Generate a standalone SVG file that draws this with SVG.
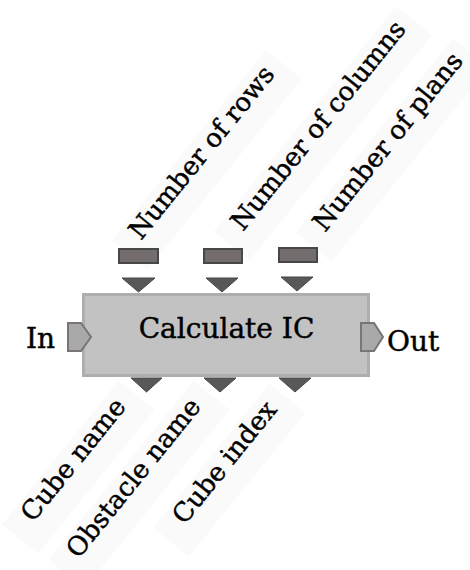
<svg xmlns="http://www.w3.org/2000/svg" width="470" height="570" viewBox="0 0 470 570">
<style>
text{font-family:"DejaVu Serif","Liberation Serif",serif;font-size:28px;fill:#000;stroke:#000;stroke-width:0.45}
.lbl{font-size:26px}
.band{fill:#fafafa}
.box{fill:#c2c2c2;stroke:#aeaeae;stroke-width:3}
.pin{fill:#736d6d;stroke:#474747;stroke-width:2}
.tri{fill:#585858;stroke:#474747;stroke-width:1}
.port{fill:#a9a9a9;stroke:#7a7474;stroke-width:2}
</style>
<rect width="470" height="570" fill="#fff"/>
<g id="bands">
<rect class="band" x="-18" y="-23" width="245" height="46" transform="translate(141,241) rotate(-51)"/>
<rect class="band" x="-18" y="-23" width="290" height="46" transform="translate(243,232) rotate(-51)"/>
<rect class="band" x="-18" y="-23" width="250" height="46" transform="translate(325,233) rotate(-51)"/>
<rect class="band" x="-170" y="-23" width="185" height="46" transform="translate(127,407) rotate(-51)"/>
<rect class="band" x="-215" y="-23" width="230" height="46" transform="translate(202,407) rotate(-51)"/>
<rect class="band" x="-170" y="-23" width="185" height="46" transform="translate(278,410) rotate(-51)"/>
</g>
<g id="calculate-ic">
<rect class="box" x="83.5" y="294.5" width="285" height="81"/>
<text x="226.5" y="338" text-anchor="middle">Calculate IC</text>
</g>
<g id="in-port">
<polygon class="port" points="68,323 81,323 91,337 81,351 68,351"/>
<text x="26" y="348">In</text>
</g>
<g id="out-port">
<polygon class="port" points="361,323 374,323 383,337 374,351 361,351"/>
<text x="387" y="351">Out</text>
</g>
<g id="number-of-rows">
<rect class="pin" x="119" y="249" width="39" height="14"/>
<polygon class="tri" points="122,278 155,278 138.5,292"/>
<text class="lbl" transform="translate(141,241) rotate(-51)">Number of rows</text>
</g>
<g id="number-of-columns">
<rect class="pin" x="204" y="249" width="38" height="14"/>
<polygon class="tri" points="206,278 238,278 222,292"/>
<text class="lbl" transform="translate(243,232) rotate(-51)">Number of columns</text>
</g>
<g id="number-of-plans">
<rect class="pin" x="279" y="248" width="38" height="14"/>
<polygon class="tri" points="281,277 313,277 297,291"/>
<text class="lbl" transform="translate(325,233) rotate(-51)">Number of plans</text>
</g>
<g id="cube-name">
<polygon class="tri" points="131,378 162,378 146.5,392"/>
<text class="lbl" text-anchor="end" transform="translate(127,407) rotate(-51)">Cube name</text>
</g>
<g id="obstacle-name">
<polygon class="tri" points="204,378 236,378 220,392"/>
<text class="lbl" text-anchor="end" transform="translate(202,407) rotate(-51)">Obstacle name</text>
</g>
<g id="cube-index">
<polygon class="tri" points="279,378 311,378 295,392"/>
<text class="lbl" text-anchor="end" transform="translate(278,410) rotate(-51)">Cube index</text>
</g>
<g id="connectors"></g>
</svg>
